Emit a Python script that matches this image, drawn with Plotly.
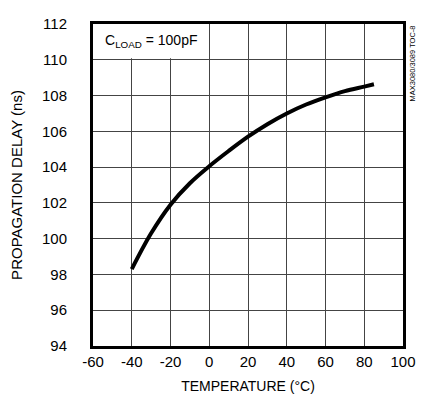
import plotly.graph_objects as go

temperature = [-40, -30, -20, -10, 0, 10, 20, 30, 40, 50, 60, 70, 80, 85]
delay_ns = [98.3, 100.3, 101.9, 103.1, 104.05, 104.9, 105.7, 106.4, 107.0, 107.5, 107.9, 108.25, 108.5, 108.63]

x_ticks = [-60, -40, -20, 0, 20, 40, 60, 80, 100]
y_ticks = [94, 96, 98, 100, 102, 104, 106, 108, 110, 112]

FONT = "Liberation Sans Narrow, Arial Narrow, Liberation Sans, Arial, sans-serif"

fig = go.Figure()
fig.add_trace(go.Scatter(x=temperature, y=delay_ns, mode="lines",
                         line=dict(color="black", width=4, shape="spline", smoothing=1.0),
                         showlegend=False, hoverinfo="skip"))

fig.add_shape(type="rect", xref="x", yref="y", x0=-60, x1=-3, y0=110.08, y1=112,
              fillcolor="white", line=dict(width=0), layer="between")

fig.add_annotation(x=-55, y=111.05, xref="x", yref="y", xanchor="left", yanchor="middle",
                   text="C<sub>LOAD</sub> = 100pF", showarrow=False,
                   font=dict(family=FONT, size=14, color="black"))
fig.add_annotation(x=1.0, y=1.0, xref="paper", yref="paper", xanchor="left", yanchor="top",
                   xshift=2, text="MAX3080/3089 TOC-8", textangle=-90, showarrow=False,
                   font=dict(family=FONT, size=7.5, color="black"))

axis_common = dict(showgrid=True, gridcolor="#444444", gridwidth=1,
                   showline=True, linecolor="black", linewidth=3, mirror=True,
                   ticks="", zeroline=False,
                   tickfont=dict(family=FONT, size=15, color="black"))

fig.update_xaxes(range=[-60, 100], tickvals=x_ticks, ticktext=[str(v) for v in x_ticks],
                 title=dict(text="TEMPERATURE (°C)", font=dict(family=FONT, size=14, color="black"), standoff=13),
                 **axis_common)
fig.update_yaxes(range=[94, 112], tickvals=y_ticks, ticktext=[str(v) for v in y_ticks],
                 ticklabelstandoff=20,
                 title=dict(text="PROPAGATION DELAY (ns)", font=dict(family=FONT, size=15, color="black"), standoff=16),
                 **axis_common)

fig.update_layout(width=428, height=405, margin=dict(l=93, r=14, t=24, b=59),
                  plot_bgcolor="white", paper_bgcolor="white",
                  font=dict(family=FONT, color="black"))

fig.write_html("out.html")
